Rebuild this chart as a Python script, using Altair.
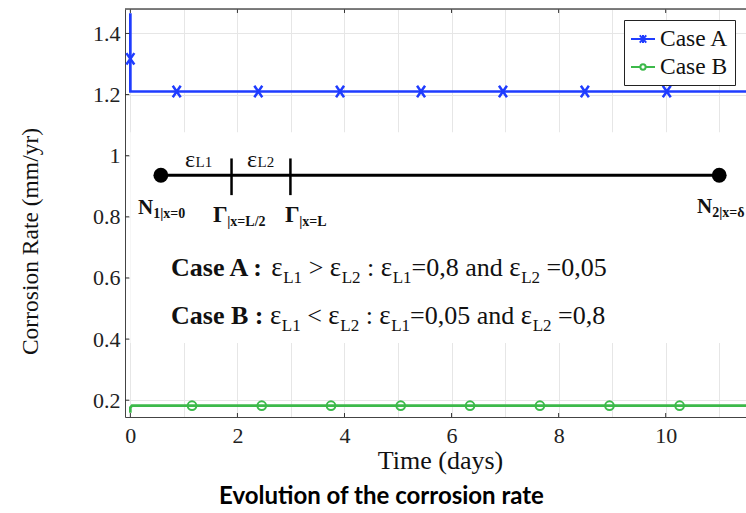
import altair as alt
import pandas as pd

# ---------------- data ----------------
series_names = ["Case A", "Case B"]
series_colors = ["#1f3cff", "#3cb94a"]

# Case A line (vertical start at t=0, then plateau)
case_a_t = [0.0, 0.0, 0.0, 0.03, 11.5]
case_a_v = [1.466, 1.317, 1.21, 1.21, 1.21]
# Case B line
case_b_t = [0.0, 0.0, 0.03, 11.5]
case_b_v = [0.159, 0.176, 0.182, 0.182]

# marker positions
case_a_mark_t = [0.0, 0.866, 2.39, 3.917, 5.43, 6.96, 8.49, 10.02]
case_a_mark_v = [1.317, 1.21, 1.21, 1.21, 1.21, 1.21, 1.21, 1.21]
case_b_mark_t = [1.152, 2.454, 3.748, 5.05, 6.345, 7.65, 8.95, 10.26]
case_b_mark_v = [0.182, 0.182, 0.182, 0.182, 0.182, 0.182, 0.182, 0.182]

x_grid_values = [0, 1, 2, 3, 4, 5, 6, 7, 8, 9, 10, 11]
x_tick_values = [0, 2, 4, 6, 8, 10]
y_tick_values = [0.2, 0.4, 0.6, 0.8, 1.0, 1.2, 1.4]

X_DOMAIN = [-0.1, 11.5]
Y_DOMAIN = [0.145, 1.48]
W, H = 621, 408
PAD_L, PAD_T = 125, 9

# schematic overlay (in data units)
panel_box = {"t": [0.0], "t2": [11.5], "v": [0.387], "v2": [1.077]}
bar_line = {"t": [0.57], "t2": [11.0], "v": [0.936]}
bar_nodes = {"t": [0.57, 11.0], "v": [0.936, 0.936]}
bar_ticks = {"t": [1.89, 2.99], "v": [0.871, 0.871], "v2": [0.991, 0.991]}

# annotation lines: (text, kind) pieces; kinds: b=bold, r=regular, e=epsilon,
# s=subscript, bs=bold subscript, le=label epsilon, ls=label subscript
case_a_line = [("Case A :", "b"), (" ", "r"), ("ε", "e"), ("L1", "s"), (" > ", "r"), ("ε", "e"),
               ("L2", "s"), (" : ", "r"), ("ε", "e"), ("L1", "s"), ("=0,8 and ", "r"), ("ε", "e"),
               ("L2", "s"), (" =0,05", "r")]
case_b_line = [("Case B :", "b"), (" ", "r"), ("ε", "e"), ("L1", "s"), (" < ", "r"), ("ε", "e"),
               ("L2", "s"), (" : ", "r"), ("ε", "e"), ("L1", "s"), ("=0,05 and ", "r"), ("ε", "e"),
               ("L2", "s"), (" =0,8", "r")]
node_labels = [
    ([("N", "bn"), ("1|x=0", "bs")], 138, 214),
    ([("Γ", "bg"), ("|x=L/2", "bs")], 213, 222),
    ([("Γ", "bg"), ("|x=L", "bs")], 285, 222),
    ([("N", "bn"), ("2|x=δ", "bs")], 697, 213),
    ([("ε", "le"), ("L1", "ls")], 185, 167),
    ([("ε", "le"), ("L2", "ls")], 247, 167),
    (case_a_line, 171, 276),
    (case_b_line, 171, 324),
]

SERIF = "Liberation Serif"
# kind -> (font size, bold, baseline shift in px)
KIND = {"b": (26, True, 0), "r": (26, False, 0), "e": (27, False, 0), "s": (17, False, 7),
        "bn": (21, True, 0), "bg": (23, True, 0), "bs": (14, True, 4),
        "le": (24, False, 0), "ls": (15, False, 0)}
# Times-compatible advance widths (em)
REG_W = {" ": .25, ">": .564, "<": .564, ":": .278, "=": .564, "0": .5, ",": .25, "8": .5,
         "5": .5, "a": .444, "n": .5, "d": .5, "L": .611, "1": .5, "2": .5, "ε": .44}
BOLD_W = {"C": .722, "a": .5, "s": .389, "e": .444, " ": .25, "A": .722, "B": .667, ":": .333,
          "N": .722, "Γ": .62, "1": .5, "2": .5, "|": .22, "x": .5, "=": .57, "0": .5,
          "L": .667, "/": .278, "δ": .5}


def text_width(s, size, bold):
    table = BOLD_W if bold else REG_W
    return sum(table.get(ch, 0.5) for ch in s) * size


def to_t(px):
    return X_DOMAIN[0] + (px - PAD_L) / W * (X_DOMAIN[1] - X_DOMAIN[0])


def to_v(py):
    return Y_DOMAIN[1] - (py - PAD_T) / H * (Y_DOMAIN[1] - Y_DOMAIN[0])


rows = []
for pieces, x0, base in node_labels:
    cur = x0
    for txt, kind in pieces:
        size, bold, shift = KIND[kind]
        lead = len(txt) - len(txt.lstrip(" "))
        cur += text_width(" " * lead, size, bold)
        core = txt.strip(" ")
        if core:
            rows.append({"txt": core, "t": to_t(cur), "v": to_v(base + shift),
                         "fs": size, "bold": bold})
            cur += text_width(core, size, bold)
        trail = len(txt) - len(txt.rstrip(" "))
        if core:
            cur += text_width(" " * trail, size, bold)
ann_df = pd.DataFrame(rows)

# ---------------- frames ----------------
line_df = pd.DataFrame({
    "t": case_a_t + case_b_t,
    "v": case_a_v + case_b_v,
    "series": ["Case A"] * len(case_a_t) + ["Case B"] * len(case_b_t),
    "idx": list(range(len(case_a_t))) + list(range(len(case_b_t))),
})
mark_a_df = pd.DataFrame({"t": case_a_mark_t, "v": case_a_mark_v, "series": "Case A"})
mark_b_df = pd.DataFrame({"t": case_b_mark_t, "v": case_b_mark_v, "series": "Case B"})
legend_df = pd.DataFrame({"series": series_names})

xs = alt.Scale(domain=X_DOMAIN, nice=False, zero=False)
ys = alt.Scale(domain=Y_DOMAIN, nice=False, zero=False)
cs = alt.Scale(domain=series_names, range=series_colors)

x_axis = alt.Axis(
    values=x_grid_values, title="Time (days)",
    labelExpr="datum.value % 2 == 0 ? datum.label : ''",
    labelFont=SERIF, labelFontSize=22, labelColor="#222", labelPadding=8,
    titleFont=SERIF, titleFontSize=26, titleFontWeight="normal", titleColor="#111",
    titleX=315, titleY=51, titleBaseline="alphabetic",
    tickSize=0, domainColor="#444", grid=True, gridColor="#e6e6e6",
)
y_axis = alt.Axis(
    values=y_tick_values, title="Corrosion Rate (mm/yr)",
    labelExpr="datum.value == 1 ? '1' : format(datum.value, '.1f')",
    labelFont=SERIF, labelFontSize=22, labelColor="#222", labelPadding=5,
    titleFont=SERIF, titleFontSize=23.5, titleFontWeight="normal", titleColor="#111",
    titleX=-88, titleY=232, titleAngle=270, titleBaseline="alphabetic", titleAlign="center",
    tickSize=0, domainColor="#444", grid=True, gridColor="#e6e6e6",
)

X = alt.X("t:Q", scale=xs, axis=x_axis)
Y = alt.Y("v:Q", scale=ys, axis=y_axis)

lines = alt.Chart(line_df).mark_line(strokeWidth=2.7, clip=True).encode(
    x=X, y=Y, order="idx:Q",
    color=alt.Color("series:N", scale=cs, legend=None),
)

box = alt.Chart(pd.DataFrame(panel_box)).mark_rect(color="white").encode(
    x=X, x2="t2:Q", y=Y, y2="v2:Q")

ast_path = "M-0.7,-1L0.7,1M-0.7,1L0.7,-1"
marks_a = alt.Chart(mark_a_df).mark_point(shape=ast_path, size=130, filled=False,
                                          strokeWidth=2.5, opacity=1, clip=True).encode(
    x=X, y=Y, color=alt.Color("series:N", scale=cs, legend=None))
marks_b = alt.Chart(mark_b_df).mark_point(shape="circle", size=75, filled=False,
                                          strokeWidth=2, opacity=1, clip=True).encode(
    x=X, y=Y, color=alt.Color("series:N", scale=cs, legend=None))

leg_a = "M-1,0L1,0M-0.27,-0.3L0.27,0.3M-0.27,0.3L0.27,-0.3M0,-0.33L0,0.33"
leg_b = "M-1,0L-0.22,0M0.22,0L1,0M-0.22,0A0.22,0.22,0,1,1,0.22,0A0.22,0.22,0,1,1,-0.22,0"
legend_spec = alt.Legend(
    orient="none", legendX=499, legendY=11, title=None,
    strokeColor="#222", fillColor="white", padding=6, cornerRadius=0,
    labelFont=SERIF, labelFontSize=23.5, labelColor="#111", labelOffset=4,
    symbolSize=576, symbolStrokeWidth=2, rowPadding=3,
)
legend_layer = alt.Chart(legend_df).mark_point(filled=False, strokeWidth=2, opacity=1).encode(
    x=alt.value(-400), y=alt.value(-400),
    color=alt.Color("series:N", scale=cs, legend=legend_spec),
    shape=alt.Shape("series:N", scale=alt.Scale(domain=series_names, range=[leg_a, leg_b]),
                    legend=legend_spec),
)

# inward tick marks and top frame
xt_df = pd.DataFrame({"t": x_tick_values})
yt_df = pd.DataFrame({"v": y_tick_values})
ticks_bottom = alt.Chart(xt_df).mark_rule(color="#333", strokeWidth=1).encode(
    x=X, y=alt.datum(Y_DOMAIN[0], scale=ys), y2=alt.datum(Y_DOMAIN[0] + 0.013))
ticks_top = alt.Chart(xt_df).mark_rule(color="#333", strokeWidth=1).encode(
    x=X, y=alt.datum(Y_DOMAIN[1], scale=ys), y2=alt.datum(Y_DOMAIN[1] - 0.013))
ticks_left = alt.Chart(yt_df).mark_rule(color="#333", strokeWidth=1).encode(
    y=Y, x=alt.datum(X_DOMAIN[0], scale=xs), x2=alt.datum(X_DOMAIN[0] + 0.08))
top_border = alt.Chart(pd.DataFrame({"t": [X_DOMAIN[0]], "t2": [X_DOMAIN[1]], "v": [Y_DOMAIN[1]]})).mark_rule(
    color="#555", strokeWidth=1.5).encode(x=X, x2="t2:Q", y=Y)

# schematic
rod = alt.Chart(pd.DataFrame(bar_line)).mark_rule(color="black", strokeWidth=3).encode(
    x=X, x2="t2:Q", y=Y)
rod_ticks = alt.Chart(pd.DataFrame(bar_ticks)).mark_rule(color="black", strokeWidth=2.5).encode(
    x=X, y=Y, y2="v2:Q")
nodes = alt.Chart(pd.DataFrame(bar_nodes)).mark_point(filled=True, color="black", size=220, opacity=1).encode(
    x=X, y=Y)

bold_labels = alt.Chart(ann_df[ann_df["bold"]]).mark_text(
    font=SERIF, fontWeight="bold", align="left", baseline="alphabetic", color="#111").encode(
    x=X, y=Y, text="txt:N", size=alt.Size("fs:Q", scale=None))
norm_labels = alt.Chart(ann_df[~ann_df["bold"]]).mark_text(
    font=SERIF, fontWeight="normal", align="left", baseline="alphabetic", color="#111").encode(
    x=X, y=Y, text="txt:N", size=alt.Size("fs:Q", scale=None))

chart = alt.layer(
    lines, box, ticks_bottom, ticks_top, ticks_left, top_border,
    marks_a, marks_b, rod, rod_ticks, nodes, bold_labels, norm_labels, legend_layer,
).resolve_legend(color="independent", shape="independent").properties(
    width=W, height=H,
    autosize=alt.AutoSizeParams(type="none"),
    padding={"left": PAD_L, "top": PAD_T, "right": 0, "bottom": 96},
    title=alt.TitleParams("Evolution of the corrosion rate", orient="bottom", anchor="middle",
                          font="Lato", fontSize=24, fontWeight="bold", color="black",
                          offset=12, dx=-54),
).configure_view(stroke=None).configure(background="white")

chart.save("out.html", embed_options={"renderer": "svg", "actions": False})
